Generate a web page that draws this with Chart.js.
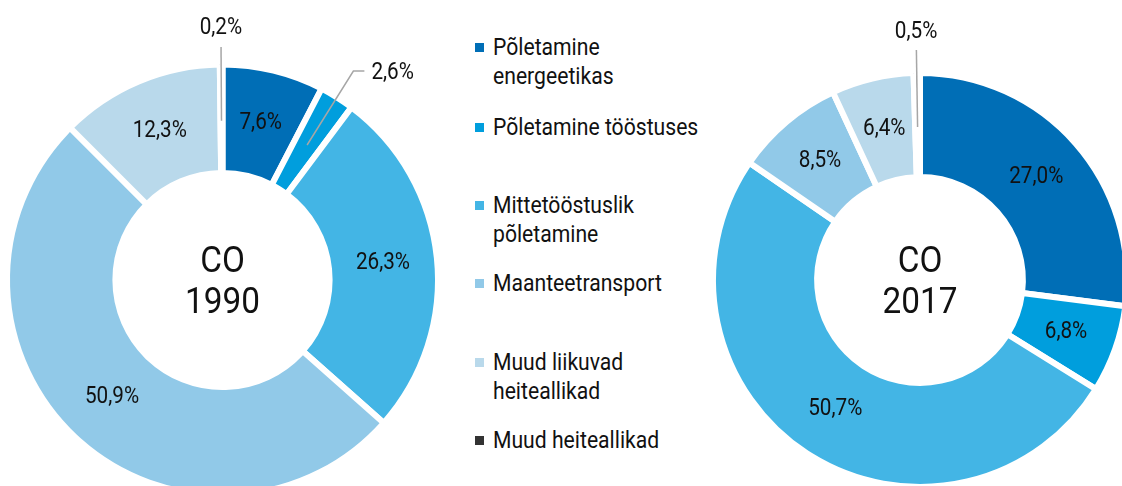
<!DOCTYPE html>
<html>
<head>
<meta charset="utf-8">
<script src="https://cdn.jsdelivr.net/npm/chart.js@4.4.1/dist/chart.umd.min.js"></script>
<style>
  body { margin: 0; width: 1122px; height: 486px; overflow: hidden; background: #fff; position: relative; font-family: Roboto, sans-serif; }
  canvas { position: absolute; top: 0; }
  #chart1990 { left: 0; }
  #chart2017 { left: 700px; }
  .legend-item { position: absolute; left: 475px; }
  .legend-item .box { position: absolute; left: 0; top: 10px; width: 9px; height: 9px; }
  .legend-item .txt { position: absolute; left: 18px; top: 0; font-size: 23.5px; line-height: 29px; color: #111; white-space: nowrap; transform: scaleX(0.9); transform-origin: left top; }
</style>
</head>
<body>
<canvas id="chart1990" width="445" height="560"></canvas>
<canvas id="chart2017" width="440" height="560"></canvas>
<div id="legend"></div>
<script>
// categories and values (percent)
const categories = ['Põletamine energeetikas', 'Põletamine tööstuses', 'Mittetööstuslik põletamine', 'Maanteetransport', 'Muud liikuvad heiteallikad', 'Muud heiteallikad'];
const legendLines = [['Põletamine', 'energeetikas'], ['Põletamine tööstuses'], ['Mittetööstuslik', 'põletamine'], ['Maanteetransport'], ['Muud liikuvad', 'heiteallikad'], ['Muud heiteallikad']];
const values1990 = [7.6, 2.6, 26.3, 50.9, 12.3, 0.2];
const values2017 = [27.0, 6.8, 50.7, 8.5, 6.4, 0.5];
const colors = ['#006EB6', '#009EDD', '#43B5E5', '#91C9E8', '#B9D9EB', '#333333'];

// small text helper - squeezes Roboto a bit so it looks like the condensed face
function drawText(ctx, text, x, y, size, align) {
    ctx.save();
    ctx.font = size + 'px Roboto';
    ctx.translate(x, y);
    ctx.scale(0.9, 1);
    ctx.textAlign = align || 'center';
    ctx.textBaseline = 'middle';
    ctx.fillStyle = '#111';
    ctx.fillText(text, 0, 0);
    ctx.restore();
}

const sliceLabels = {
    id: 'sliceLabels',
    afterDatasetsDraw(chart, args, opts) {
        const ctx = chart.ctx;
        const meta = chart.getDatasetMeta(0);
        const values = chart.data.datasets[0].data;
        let cx = 0, cy = 0;
        meta.data.forEach((arc, i) => {
            const p = arc.getProps(['x', 'y', 'startAngle', 'endAngle', 'innerRadius', 'outerRadius'], true);
            cx = p.x; cy = p.y;
            const mid = (p.startAngle + p.endAngle) / 2;
            const midR = (p.innerRadius + p.outerRadius) / 2;
            const text = values[i].toFixed(1).replace('.', ',') + '%';
            const type = opts.callouts[i];
            const at = r => [p.x + Math.cos(mid) * r, p.y + Math.sin(mid) * r];

            if (!type) {
                const [x, y] = at(midR);
                drawText(ctx, text, x, y, 23);
                return;
            }
            ctx.save();
            ctx.strokeStyle = '#A6A6A6';
            ctx.lineWidth = 1.5;
            ctx.beginPath();
            const [x0, y0] = at(midR - 2);
            ctx.moveTo(x0, y0);
            if (type === 'up') {
                const [x1, y1] = at(opts.lineR);
                ctx.lineTo(x1, y1);
                ctx.stroke();
                const [lx, ly] = at(opts.textR);
                drawText(ctx, text, lx, ly, 23);
            } else {
                const [x1, y1] = at(p.outerRadius + 31);
                ctx.lineTo(x1, y1);
                ctx.lineTo(x1 + 11, y1);
                ctx.stroke();
                drawText(ctx, text, x1 + 18, y1 + 2, 23, 'left');
            }
            ctx.restore();
        });
        // centre title
        drawText(ctx, opts.title[0], cx, cy - 17, 37);
        drawText(ctx, opts.title[1], cx, cy + 24, 37);
    }
};

function makeChart(id, values, padding, callouts, title, lineR, textR) {
    return new Chart(document.getElementById(id), {
        type: 'doughnut',
        data: {
            labels: categories,
            datasets: [{
                data: values,
                backgroundColor: colors,
                borderColor: '#fff',
                borderWidth: 6
            }]
        },
        options: {
            responsive: false,
            animation: false,
            cutout: '49.7%',
            layout: { padding: padding },
            plugins: {
                legend: { display: false },
                tooltip: { enabled: false },
                sliceLabels: { callouts: callouts, title: title, lineR: lineR, textR: textR }
            }
        },
        plugins: [sliceLabels]
    });
}

makeChart('chart1990', values1990, { left: 4, right: 4, top: 61.5, bottom: 61.5 }, { 1: 'elbow', 5: 'up' }, ['CO', '1990'], 233, 252);
makeChart('chart2017', values2017, { left: 10, right: 10, top: 70, bottom: 70 }, { 5: 'up' }, ['CO', '2017'], 230, 248);

// legend in the middle
const legendTops = [33, 113, 191, 269, 348, 426];
const legend = document.getElementById('legend');
legendLines.forEach((lines, i) => {
    const item = document.createElement('div');
    item.className = 'legend-item';
    item.style.top = legendTops[i] + 'px';
    item.innerHTML = '<span class="box" style="background:' + colors[i] + '"></span><span class="txt">' + lines.join('<br>') + '</span>';
    legend.appendChild(item);
});
</script>
</body>
</html>
